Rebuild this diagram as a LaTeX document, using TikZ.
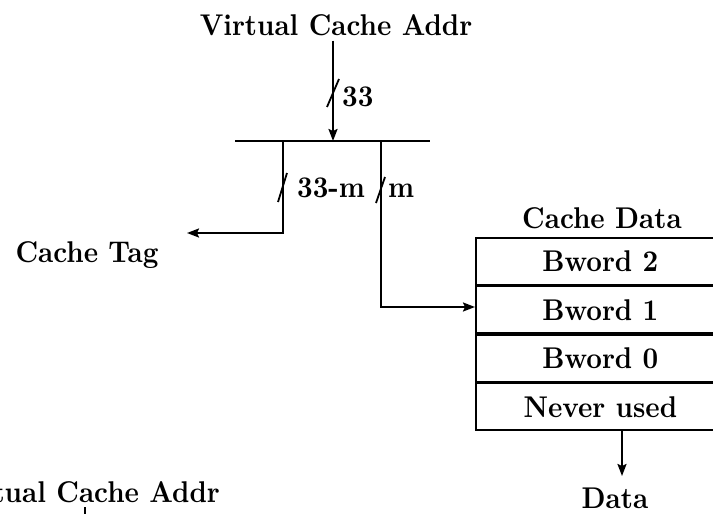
\documentclass[tikz,border=0pt]{standalone}
\usetikzlibrary{arrows.meta}
\newcommand{\bigbf}[1]{\scalebox{2.72}[3.0]{\fontsize{10}{12}\selectfont\bfseries #1}}
\begin{document}
\begin{tikzpicture}[x=1pt,y=-1pt,
  wire/.style={line width=2pt},
  arr/.style={wire,-{Stealth[length=12pt,width=9pt,inset=2pt]}},
  lbl/.style={inner sep=0pt},
  cell/.style={draw,line width=1.8pt,minimum width=249pt,minimum height=46.75pt,
    inner sep=0pt,anchor=north west},
  busslash/.style={line width=1.8pt}]
\useasboundingbox (0,0) rectangle (713,514);
\clip (0,0) rectangle (713,514);

% input address and the split bus
\node[lbl,anchor=base] (vca) at (336,35) {\bigbf{Virtual Cache Addr}};
\coordinate (bl) at (235,141);
\coordinate (br) at (430,141);
\coordinate (in) at (333,141);
\draw[wire] (bl) -- (br);
\draw[arr] (vca.south -| in) ++(0,5) -- (in);
\draw[busslash] (327,107) -- (339,79);
\node[lbl,anchor=base west] (w33) at (342,106) {\bigbf{33}};

% tag branch
\coordinate (tagtop) at (283,141);
\coordinate (tagcorner) at (283,233);
\node[lbl,anchor=base] (tag) at (87,262) {\bigbf{Cache Tag}};
\coordinate (tagend) at (187,233);
\draw[arr] (tagtop) -- (tagcorner) -- (tagend);
\draw[busslash] (278,202) -- (287,173);
\node[lbl,anchor=base west] (w33m) at (297,197) {\bigbf{33-m}};

% index branch
\coordinate (idxtop) at (381,141);
\coordinate (idxcorner) at (381,307);
\draw[busslash] (376,203) -- (385,177);
\node[lbl,anchor=base west] (wm) at (388,197) {\bigbf{m}};

% cache data array
\node[lbl,anchor=base] (cdt) at (602,228) {\bigbf{Cache Data}};
\node[cell] (r2) at (475,237) {\bigbf{Bword 2}};
\node[cell,anchor=north] (r1) at (r2.south) {\bigbf{Bword 1}};
\node[cell,anchor=north] (r0) at (r1.south) {\bigbf{Bword 0}};
\node[cell,anchor=north] (rn) at (r0.south) {\bigbf{Never used}};
\draw[arr] (idxtop) -- (idxcorner) -- (idxcorner -| r1.west);

% output
\node[lbl,anchor=base] (data) at (615,508) {\bigbf{Data}};
\coordinate (dout) at (622,476);
\draw[arr] (rn.south -| dout) -- (dout);

% next figure's input, partly visible
\node[lbl,anchor=base east] (vca2) at (220,502) {\bigbf{Virtual Cache Addr}};
\coordinate (vca2down) at (85,530);
\draw[wire] (85,507) -- (vca2down);
\end{tikzpicture}
\end{document}
